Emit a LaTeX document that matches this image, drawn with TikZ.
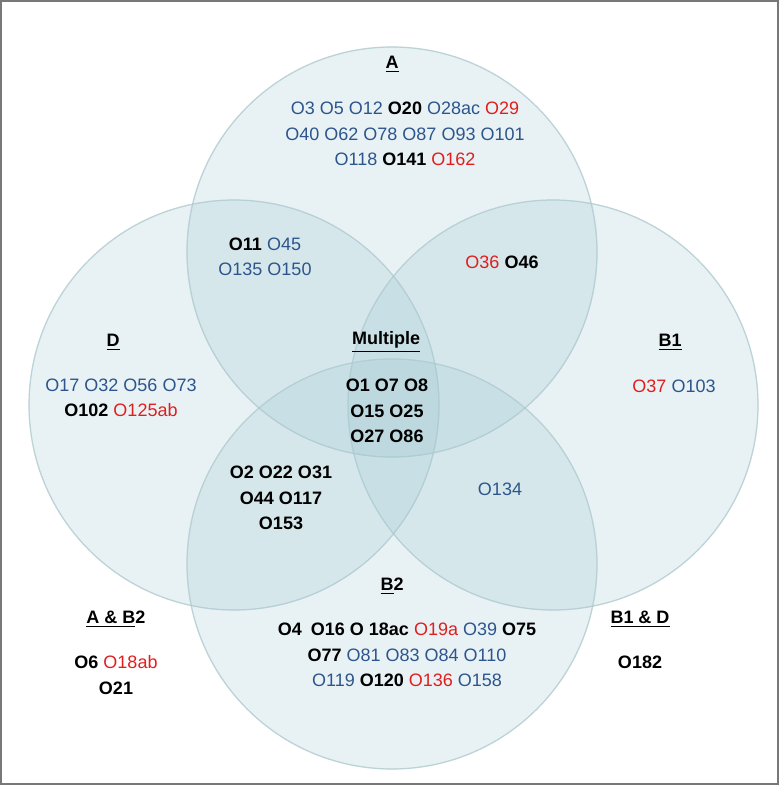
\documentclass[tikz,border=0pt]{standalone}
\usepackage{fontspec}
\setmainfont{Liberation Sans}
\usepackage{tikz}
\usetikzlibrary{calc}
\definecolor{vennfill}{RGB}{150,195,205}
\definecolor{vennline}{RGB}{175,202,208}
\definecolor{isoblue}{RGB}{45,85,140}
\definecolor{isored}{RGB}{225,30,30}
\definecolor{rahmen}{RGB}{120,120,120}
\newcommand{\isoB}[1]{\textcolor{isoblue}{#1}}
\newcommand{\isoR}[1]{\textcolor{isored}{#1}}
\newcommand{\isoK}[1]{\textbf{#1}}
\newcommand{\hdr}[1]{\textbf{\underline{#1}}}

\begin{document}
\begin{tikzpicture}[x=0.5pt, y=-0.5pt,
	venn/.style={fill=vennfill, fill opacity=0.22, draw=vennline, draw opacity=0.55, line width=0.6pt},
	grp/.style={align=center, inner sep=0pt, font=\fontsize{9}{12.75}\selectfont},
	kopf/.style={inner sep=0pt, font=\fontsize{9}{12.75}\selectfont}]

	% Rahmen
	\useasboundingbox (0,0) rectangle (779,785);
	\draw[rahmen, line width=0.8pt] (1,1) rectangle (778,784);

	% Kreise
	\coordinate (cA) at (392,252);
	\coordinate (cD) at (234,405);
	\coordinate (cB1) at (553,405);
	\coordinate (cB2) at (392,564);

	\fill[venn] (cA) circle [radius=102.5pt];
	\fill[venn] (cD) circle [radius=102.5pt];
	\fill[venn] (cB1) circle [radius=102.5pt];
	\fill[venn] (cB2) circle [radius=102.5pt];
	\draw[venn, fill=none] (cA) circle [radius=102.5pt];
	\draw[venn, fill=none] (cD) circle [radius=102.5pt];
	\draw[venn, fill=none] (cB1) circle [radius=102.5pt];
	\draw[venn, fill=none] (cB2) circle [radius=102.5pt];

	% A
	\node[kopf] (hA) at (392,64) {\hdr{A}};
	\node[grp] (gA) at (405,134) {\isoB{O3 O5 O12} \isoK{O20} \isoB{O28ac} \isoR{O29}\\
		\isoB{O40 O62 O78 O87 O93 O101}\\
		\isoB{O118} \isoK{O141} \isoR{O162}};

	% A und D, A und B1
	\node[grp] (gAD) at (265,257) {\isoK{O11} \isoB{O45}\\ \isoB{O135 O150}};
	\node[grp] (gAB1) at (502,262) {\isoR{O36} \isoK{O46}};

	% D
	\node[kopf] (hD) at (113,342) {\hdr{D}};
	\node[grp] (gD) at (121,398) {\isoB{O17 O32 O56 O73}\\ \isoK{O102} \isoR{O125ab}};

	% Multiple
	\node[kopf] (hM) at (386,342) {\hdr{Multiple}};
	\node[grp] (gM) at (387,411) {\isoK{O1 O7 O8}\\ \isoK{O15 O25}\\ \isoK{O27 O86}};

	% B1
	\node[kopf] (hB1) at (670,342) {\hdr{B1}};
	\node[grp] (gB1) at (674,386) {\isoR{O37} \isoB{O103}};

	% D und B2, B1 und B2
	\node[grp] (gDB2) at (281,498) {\isoK{O2 O22 O31}\\ \isoK{O44 O117}\\ \isoK{O153}};
	\node[grp] (gB1B2) at (500,489) {\isoB{O134}};

	% B2
	\node[kopf] (hB2) at (392,586) {\textbf{\underline{B}2}};
	\node[grp] (gB2) at (407,655) {\isoK{O4\enspace O16 O 18ac} \isoR{O19a} \isoB{O39} \isoK{O75}\\
		\isoK{O77} \isoB{O81 O83 O84 O110}\\
		\isoB{O119} \isoK{O120} \isoR{O136} \isoB{O158}};

	% A & B2
	\node[kopf] (hAB2) at (116,619) {\textbf{\underline{A \& B}2}};
	\node[grp] (gAB2) at (116,675) {\isoK{O6} \isoR{O18ab}\\ \isoK{O21}};

	% B1 & D
	\node[kopf] (hB1D) at (640,619) {\hdr{B1 \& D}};
	\node[grp] (gB1D) at (640,662) {\isoK{O182}};
\end{tikzpicture}
\end{document}
